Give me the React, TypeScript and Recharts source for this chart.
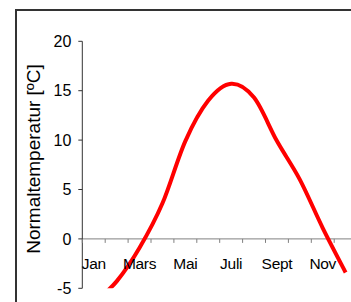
import React from 'react';
import { LineChart, Line, XAxis, YAxis, ReferenceLine } from 'recharts';

const months = ['Jan', 'Feb', 'Mars', 'Apr', 'Mai', 'Juni', 'Juli', 'Aug', 'Sept', 'Okt', 'Nov', 'Des'];
const temperatures = [-6.5, -4.3, -0.9, 3.6, 9.9, 14.0, 15.7, 14.3, 9.9, 6.0, 1.1, -3.4];
const shownMonths = ['Jan', 'Mars', 'Mai', 'Juli', 'Sept', 'Nov'];
const yTicks = [-5, 0, 5, 10, 15, 20];
const yLabel = 'Normaltemperatur [ºC]';

const data = months.map((m, i) => ({ month: m, pos: i + 0.5, temp: temperatures[i] }));
const xTicks = months.map((_, i) => i).concat([months.length]);

const FONT = '"Liberation Sans", Arial, sans-serif';
const CHART_W = 360;
const CHART_H = 302;
const PLOT_LEFT = 82.3;
const PLOT_TOP = 41.3;
const PLOT_H = 247;
const CAT_W = 22.9;
const PLOT_W = CAT_W * months.length;
const Y_MIN = -5;
const Y_MAX = 20;
const ZERO_Y = PLOT_TOP + (PLOT_H * (Y_MAX - 0)) / (Y_MAX - Y_MIN);
const X_AXIS_H = CHART_H - PLOT_TOP - PLOT_H;

// Excel-like smoothed line (Catmull-Rom / cardinal with tension 0)
const smoothCurve = (context: any) => {
  let pts: [number, number][] = [];
  let areaMode = false;
  return {
    areaStart() {
      areaMode = true;
    },
    areaEnd() {
      areaMode = false;
    },
    lineStart() {
      pts = [];
    },
    point(x: number, y: number) {
      pts.push([+x, +y]);
    },
    lineEnd() {
      const n = pts.length;
      if (n === 0) return;
      context.moveTo(pts[0][0], pts[0][1]);
      if (n === 1) return;
      for (let i = 0; i < n - 1; i++) {
        const p0 = pts[i === 0 ? 0 : i - 1];
        const p1 = pts[i];
        const p2 = pts[i + 1];
        const p3 = pts[i + 2 < n ? i + 2 : n - 1];
        const c1x = p1[0] + (p2[0] - p0[0]) / 6;
        const c1y = p1[1] + (p2[1] - p0[1]) / 6;
        const c2x = p2[0] - (p3[0] - p1[0]) / 6;
        const c2y = p2[1] - (p3[1] - p1[1]) / 6;
        context.bezierCurveTo(c1x, c1y, c2x, c2y, p2[0], p2[1]);
      }
      if (areaMode) context.closePath();
    },
  };
};

const XTick = (props: any) => {
  const { x, payload } = props;
  const v = payload.value as number;
  const name = months[v];
  return (
    <g>
      <line x1={x} x2={x} y1={ZERO_Y} y2={ZERO_Y + 4} stroke="#808080" strokeWidth={1} />
      {name && shownMonths.includes(name) ? (
        <text
          x={x + CAT_W / 2}
          y={ZERO_Y + 29.6}
          textAnchor="middle"
          fontFamily={FONT}
          fontSize={15.5}
          fill="#000"
          letterSpacing={-0.3}
        >
          {name}
        </text>
      ) : null}
    </g>
  );
};

const YLabel = () => (
  <text
    x={39.5}
    y={159}
    transform="rotate(-90, 39.5, 159)"
    textAnchor="middle"
    fontFamily={FONT}
    fontSize={19}
    fill="#000"
  >
    {yLabel}
  </text>
);

export default function App() {
  return (
    <div
      style={{
        position: 'fixed',
        left: 0,
        top: 0,
        width: 351,
        height: 302,
        overflow: 'hidden',
        background: '#fff',
      }}
    >
      <div
        style={{
          position: 'absolute',
          left: 15,
          top: 9,
          width: 500,
          height: 500,
          borderTop: '2px solid #333',
          borderLeft: '2px solid #333',
        }}
      />
      <div style={{ position: 'absolute', left: 0, top: 0 }}>
        <LineChart
          width={CHART_W}
          height={CHART_H}
          data={data}
          margin={{ top: PLOT_TOP, left: 0, right: CHART_W - PLOT_LEFT - PLOT_W, bottom: 0 }}
        >
          <XAxis
            dataKey="pos"
            type="number"
            domain={[0, months.length]}
            ticks={xTicks}
            interval={0}
            axisLine={false}
            tickLine={false}
            height={X_AXIS_H}
            tick={<XTick />}
          />
          <YAxis
            type="number"
            domain={[Y_MIN, Y_MAX]}
            ticks={yTicks}
            allowDataOverflow
            width={PLOT_LEFT}
            tickSize={4}
            tickMargin={7}
            axisLine={{ stroke: '#333', strokeWidth: 1 }}
            tickLine={{ stroke: '#333', strokeWidth: 1 }}
            tick={{ fontFamily: FONT, fontSize: 16, fill: '#000' }}
            label={<YLabel />}
          />
          <ReferenceLine y={0} stroke="#808080" strokeWidth={1} />
          <Line
            type={smoothCurve as any}
            dataKey="temp"
            stroke="#ff0000"
            strokeWidth={4}
            dot={false}
            activeDot={false}
            isAnimationActive={false}
          />
        </LineChart>
      </div>
    </div>
  );
}
